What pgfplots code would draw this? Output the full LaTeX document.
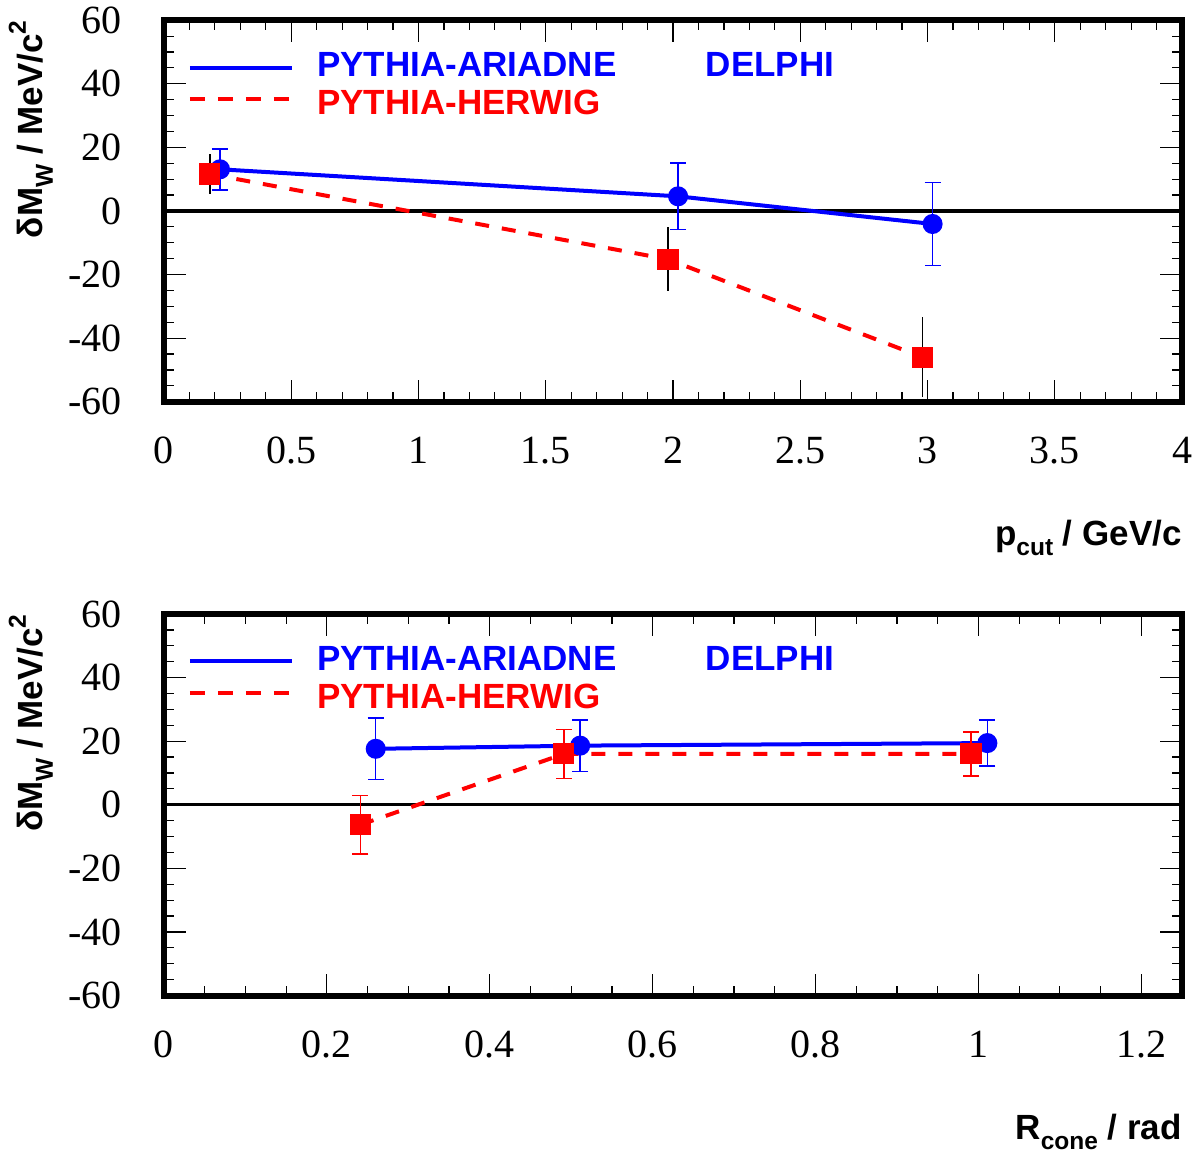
\documentclass[border=0pt]{standalone}
\usepackage{fontspec}
\setmainfont{Liberation Serif}
\setsansfont{Liberation Sans}
\usepackage{pgfplots}
\pgfplotsset{compat=1.18}

\newcommand\tickfont{\fontsize{20}{24}\selectfont\rmfamily}
\newcommand\labfont{\fontsize{17.5}{21}\selectfont\sffamily\bfseries}
\newcommand\sub[1]{\raisebox{-5pt}{\fontsize{12.25}{12}\selectfont #1}}
\newcommand\supr[1]{\raisebox{8.5pt}{\fontsize{12.25}{12}\selectfont #1}}

\pgfplotsset{
 rootstyle/.style={
  scale only axis, width=509pt, height=190.75pt,
  anchor=south west,
  ymin=-60, ymax=60, ytick={-60,-40,...,60}, minor y tick num=3,
  axis line style={line width=3pt},
  tick align=inside,
  major tick length=11pt, minor tick length=5pt,
  every tick/.style={black, line width=0.6pt},
  tick label style={font=\tickfont},
  /pgf/number format/assume math mode=true,
  yticklabel style={anchor=east, inner sep=0pt, xshift=-21pt},
  xticklabel style={anchor=north, inner sep=0pt, yshift=-17.5pt},
  clip=false,
 },
 bluestyle/.style={blue, line width=2pt, mark=*, mark size=4pt, mark options={solid},
   error bars/.cd, y dir=both, y explicit,
   error bar style={blue, line width=0.75pt, solid},
   error mark options={rotate=90, blue, line width=0.75pt, mark size=4pt}},
 redline/.style={red, line width=2pt, dash pattern=on 7pt off 6.5pt,
   mark=square*, mark size=4.3pt, mark options={solid}},
}

\newcommand\legendblock{%
  \draw[blue, line width=2pt] (rel axis cs:0.0255,0.8757) -- (rel axis cs:0.1257,0.8757);
  \draw[red, line width=2pt, dash pattern=on 7.5pt off 6.5pt] (rel axis cs:0.0255,0.7929) -- (rel axis cs:0.1257,0.7929);
  \node[anchor=base west, inner sep=0pt, font=\labfont, text=blue] at (rel axis cs:0.150,0.8513) {PYTHIA-ARIADNE};
  \node[anchor=base west, inner sep=0pt, font=\labfont, text=red] at (rel axis cs:0.150,0.7522) {PYTHIA-HERWIG};
  \node[anchor=base west, inner sep=0pt, font=\labfont, text=blue] at (rel axis cs:0.532,0.8513) {DELPHI};
  \node[xshift=-60.5pt, rotate=90, anchor=base east, inner sep=0pt, font=\labfont] at (rel axis cs:0,1) {δM\sub{W} / MeV/c\supr{2}};
}

\begin{document}
\begin{tikzpicture}

% top panel
\begin{axis}[rootstyle, at={(0pt,296.9pt)},
  xmin=0, xmax=4, xtick={0,0.5,1,1.5,2,2.5,3,3.5,4}, minor x tick num=4]
\addplot[black, line width=1.7pt, forget plot] coordinates {(0,0) (4,0)};
\addplot[bluestyle] coordinates {
 (0.22,13.1) +- (0,6.45)
 (2.02,4.6) +- (0,10.45)
 (3.02,-4.1) +- (0,13.05)
};
\addplot[redline, error bars/.cd, y dir=both, y explicit,
   error bar style={black, line width=0.75pt, solid}, error mark=none] coordinates {
 (0.18,11.6) +- (0,6.35)
 (1.98,-15.2) +- (0,10.05)
 (2.98,-46.0) +- (0,12.55)
};
\legendblock
\node[anchor=base east, inner sep=0pt, yshift=-72pt, font=\labfont] at (rel axis cs:1,0) {p\sub{cut} / GeV/c};
\end{axis}

% bottom panel
\begin{axis}[rootstyle, at={(0pt,0pt)},
  xmin=0, xmax=1.25, xtick={0,0.2,0.4,0.6,0.8,1,1.2}, minor x tick num=3]
\addplot[black, line width=1.7pt, forget plot] coordinates {(0,0) (1.25,0)};
\addplot[bluestyle] coordinates {
 (0.260,17.6) +- (0,9.7)
 (0.511,18.6) +- (0,8.1)
 (1.011,19.4) +- (0,7.2)
};
\addplot[redline, error bars/.cd, y dir=both, y explicit,
   error bar style={red, line width=0.75pt, solid},
   error mark options={rotate=90, red, line width=0.75pt, mark size=4pt}] coordinates {
 (0.241,-6.3) +- (0,9.2)
 (0.491,16.0) +- (0,7.75)
 (0.991,16.0) +- (0,6.9)
};
\legendblock
\node[anchor=base east, inner sep=0pt, yshift=-72pt, font=\labfont] at (rel axis cs:1,0) {R\sub{cone} / rad};
\end{axis}

\pgfresetboundingbox
\useasboundingbox (-82pt,-80.75pt) rectangle (517pt,497.75pt);
\end{tikzpicture}
\end{document}
